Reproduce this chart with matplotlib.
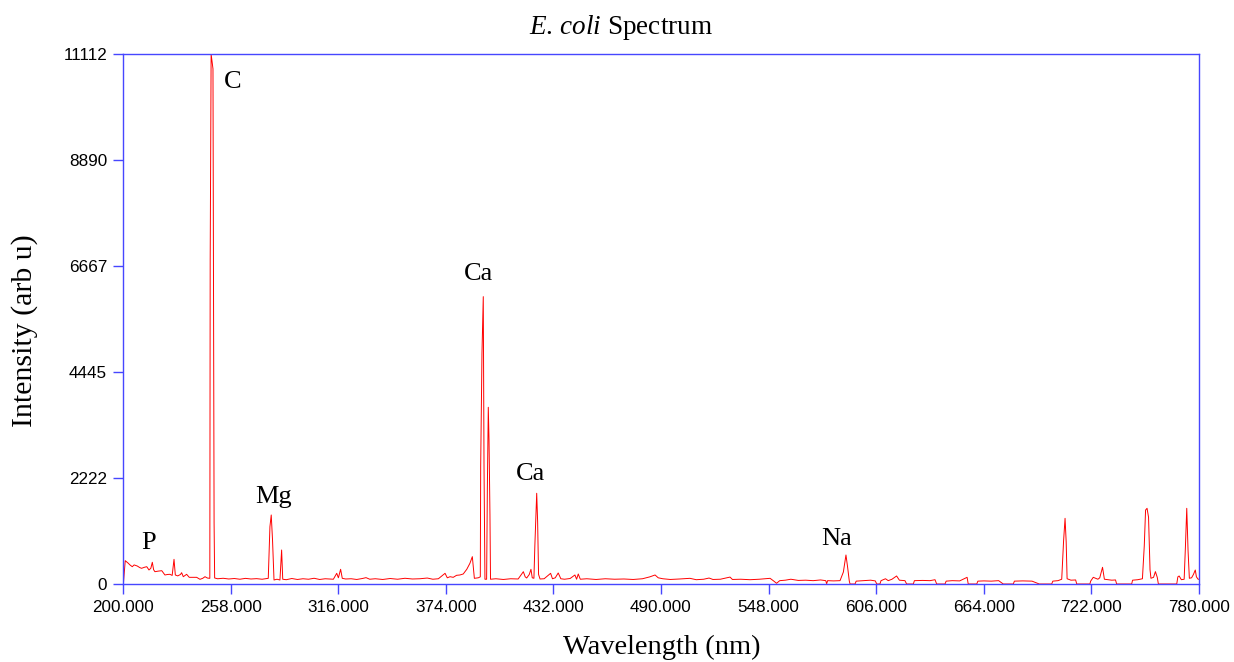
import matplotlib
matplotlib.use("Agg")
import matplotlib.pyplot as plt
import numpy as np

# spectrum (wavelength in nm, intensity in arb u)
wavelength = [
    200.0, 200.2, 201.2, 202.7, 203.8, 205.0, 206.0, 207.7, 209.0, 210.0, 211.5, 212.8,
    214.0, 215.0, 215.8, 216.5, 217.2, 219.0, 220.9, 222.6, 224.0, 225.3, 226.5, 227.5,
    228.2, 229.5, 231.0, 231.6, 232.5, 234.3, 235.7, 237.5, 239.7, 241.5, 243.0, 244.2,
    245.5, 246.8, 247.0, 247.5, 248.5, 249.1, 249.4,
    251.0, 254.0, 257.0, 260.0, 263.0, 266.0, 269.0, 272.0, 275.0, 278.3,
    279.2, 279.9, 280.6, 281.4, 283.0, 284.6, 285.5, 286.1,
    288.0, 291.0, 294.0, 297.0, 300.0, 303.0, 306.0, 309.0, 313.4,
    315.2, 316.1, 317.3, 318.2, 320.0, 323.0, 326.0, 329.0, 331.0, 333.0, 336.0,
    340.0, 344.0, 348.0, 352.0, 356.0, 360.0, 364.0, 367.0, 370.0,
    373.6, 374.8, 376.3, 378.0, 379.8, 381.6, 383.4, 385.3, 387.0, 388.3, 389.4,
    391.5, 392.6, 392.8, 393.5, 394.2, 394.6, 395.1, 396.0, 396.4, 396.9, 397.3,
    397.8, 398.1, 401.0, 405.0, 409.0, 413.0, 415.8, 416.8, 417.6, 419.0, 419.9,
    420.6, 421.5, 422.0, 423.0, 423.5, 424.0, 424.8, 427.0, 430.5, 431.5, 433.0,
    434.6, 436.0, 438.0, 441.0, 443.6, 444.5, 445.4, 446.5, 450.0, 455.0, 460.0,
    465.0, 470.0, 475.0, 480.0, 484.0, 486.8, 488.5, 491.0, 495.0, 500.0, 505.6,
    509.0, 513.0, 515.9, 518.0, 522.0, 527.2, 528.5, 533.0, 538.0, 543.0, 548.8,
    550.5, 552.3, 554.0, 557.0, 560.0, 564.0, 568.0, 572.0, 576.0, 578.8, 579.3,
    579.8, 583.0, 586.5, 588.3, 589.7, 590.6, 591.5, 591.9, 594.6, 595.2, 599.0,
    603.0, 605.5, 606.3, 608.0, 608.6, 611.0, 612.5, 614.5, 617.0, 618.5, 621.5,
    622.4, 626.0, 626.6, 631.0, 635.0, 637.7, 638.6, 643.1, 643.7, 647.0, 651.0,
    655.0, 655.6, 660.2, 660.8, 664.0, 668.0, 672.0, 674.5, 679.9, 680.5, 685.0,
    690.0, 693.9, 700.6, 701.2, 704.0, 706.0, 707.0, 707.8, 708.4, 708.9, 711.0,
    713.5, 714.1, 721.2, 721.6, 723.0, 725.5, 726.5, 728.0, 729.0, 731.0, 733.0,
    735.0, 735.6, 743.7, 744.2, 747.0, 749.5, 750.5, 751.2, 752.0, 752.8, 753.6,
    754.1, 755.5, 756.5, 757.5, 758.1, 768.0, 768.6, 769.3, 770.5, 772.0, 772.7,
    773.4, 774.1, 774.8, 776.0, 777.0, 778.0, 778.6, 779.5, 780.0,
]
intensity = [
    0, 0, 489, 440, 398, 363, 400, 377, 345, 329, 350, 363,
    294, 330, 455, 300, 258, 270, 279, 189, 200, 203, 180, 517,
    189, 170, 200, 237, 153, 203, 140, 140, 140, 98, 120, 153,
    125, 119, 6800, 11112, 10800, 1280, 126,
    110, 120, 105, 115, 100, 118, 105, 112, 100, 119,
    1201, 1447, 923, 84, 100, 84, 713, 100,
    90, 115, 95, 110, 100, 120, 95, 110, 100,
    224, 130, 308, 119, 105, 110, 95, 115, 133, 100, 110,
    95, 115, 100, 120, 105, 110, 125, 100, 110,
    224, 130, 153, 140, 182, 189, 210, 308, 434, 573, 119,
    130, 150, 2460, 4837, 6025, 2460, 100, 100, 2000, 3705, 3020,
    1447, 100, 110, 95, 110, 105, 258, 150, 126, 200, 308,
    130, 120, 800, 1902, 1306, 200, 105, 110, 224, 110, 130,
    231, 110, 100, 115, 189, 100, 210, 100, 110, 95, 110,
    100, 105, 95, 110, 150, 189, 130, 110, 95, 105, 119,
    90, 100, 125, 95, 100, 145, 95, 100, 90, 100, 119,
    70, 15, 70, 80, 100, 75, 80, 70, 85, 70, 5,
    70, 65, 70, 250, 608, 350, 60, 0, 0, 60, 70,
    80, 65, 0, 0, 70, 110, 70, 100, 168, 80, 70,
    0, 0, 70, 75, 70, 90, 0, 0, 60, 70, 65,
    140, 0, 0, 60, 65, 60, 70, 0, 0, 60, 65,
    60, 0, 0, 60, 70, 100, 900, 1377, 887, 110, 80,
    85, 0, 0, 60, 140, 100, 130, 350, 100, 90, 80,
    85, 0, 0, 80, 90, 110, 800, 1550, 1587, 1400, 300,
    120, 140, 260, 140, 0, 0, 150, 168, 90, 100, 800,
    1587, 700, 120, 130, 200, 294, 150, 100, 100,
]

x_ticks = [200, 258, 316, 374, 432, 490, 548, 606, 664, 722, 780]
y_ticks = [0, 2222, 4445, 6667, 8890, 11112]

# element labels: (text, wavelength, intensity)
peak_labels = [
    ("P", 214.0, 860),
    ("C", 259.3, 10526),
    ("Mg", 280.9, 1824),
    ("Ca", 391.4, 6500),
    ("Ca", 419.4, 2307),
    ("Na", 584.9, 944),
]

plt.rcParams['mathtext.fontset'] = 'custom'
plt.rcParams['mathtext.rm'] = 'Liberation Serif'
plt.rcParams['mathtext.it'] = 'Liberation Serif:italic'

blue = '#4646ff'

fig = plt.figure(figsize=(12.34, 6.62), dpi=100)
ax = fig.add_axes([123/1234, 1-584/662, (1199-123)/1234, (584-54)/662])

ax.plot(wavelength, intensity, color='red', lw=0.7)

ax.set_xlim(200, 780)
ax.set_ylim(0, 11112)
ax.set_xticks(x_ticks)
ax.set_xticklabels(["%.3f" % t for t in x_ticks])
ax.set_yticks(y_ticks)
ax.set_yticklabels([str(t) for t in y_ticks])
ax.tick_params(direction='out', length=7.5, width=1, color=blue,
               labelsize=12.3, pad=4)
for lab in ax.get_xticklabels() + ax.get_yticklabels():
    lab.set_fontfamily('Liberation Sans')
for s in ax.spines.values():
    s.set_color(blue)
    s.set_linewidth(1)

for txt, wl, val in peak_labels:
    ax.text(wl, val, txt, ha='center', va='center', fontsize=19,
            family='Liberation Serif')

fig.text(0.503, 1-27/662, r'$\mathit{E.\,coli}$ Spectrum', ha='center', va='center',
         fontsize=19.5, family='Liberation Serif')
fig.text(662/1234, 1-647/662, 'Wavelength (nm)', ha='center', va='center',
         fontsize=20.5, family='Liberation Serif')
fig.text(25/1234, 1-331/662, 'Intensity (arb u)', ha='center', va='center',
         rotation=90, fontsize=21.5, family='Liberation Serif')

fig.savefig('out.png', dpi=100)
